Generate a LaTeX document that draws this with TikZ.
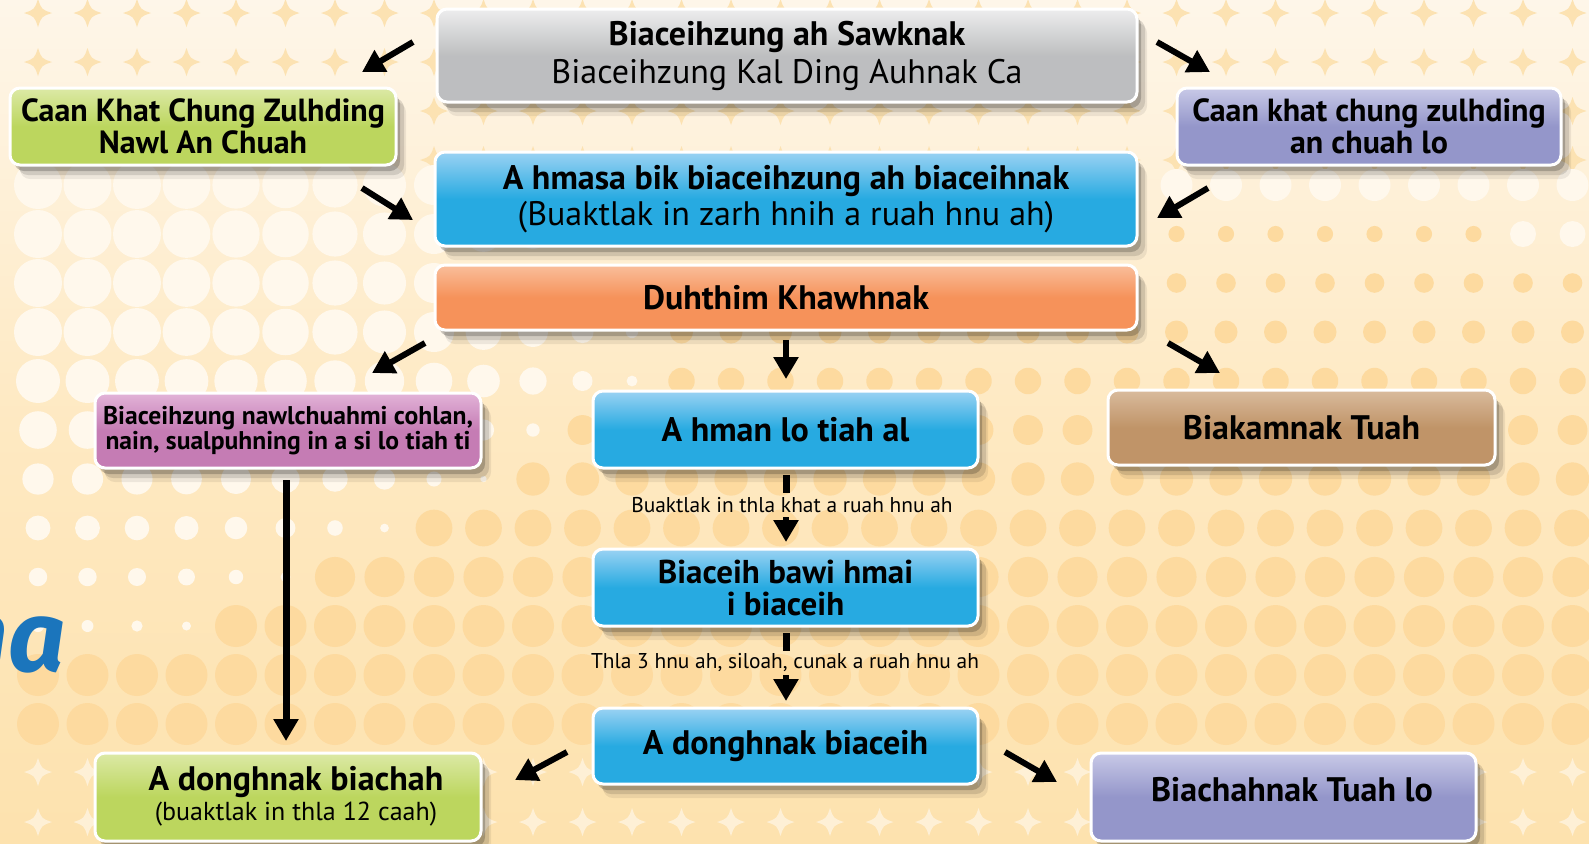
\documentclass[tikz,border=0pt]{standalone}
\usepackage{fontspec}
\setmainfont{PT Sans}
\newfontfamily\decofont{Fira Sans}
\usetikzlibrary{arrows.meta,shadows,calc}
\definecolor{bgTop}{HTML}{FEF6E9}
\definecolor{bgMid}{HTML}{FEE9C2}
\definecolor{bgBot}{HTML}{FDE2AE}
\definecolor{starA}{HTML}{FCE2B2}
\definecolor{starB}{HTML}{FEF0D6}
\definecolor{dotW}{HTML}{FFF8EC}
\definecolor{dotP}{HTML}{FDDA9F}
\definecolor{greyB}{HTML}{BDBEC0}\definecolor{greyT}{HTML}{EDEDEE}
\definecolor{blueB}{HTML}{27AAE1}\definecolor{blueT}{HTML}{9AD2F3}
\definecolor{orB}{HTML}{F6925A}\definecolor{orT}{HTML}{F9BE9B}
\definecolor{grB}{HTML}{BCD65E}\definecolor{grT}{HTML}{DCE9A6}
\definecolor{puB}{HTML}{9496CA}\definecolor{puT}{HTML}{C8C9E7}
\definecolor{pkB}{HTML}{C57CB4}\definecolor{pkT}{HTML}{E2B3D8}
\definecolor{brB}{HTML}{C09468}\definecolor{brT}{HTML}{D9BB9D}
\definecolor{decoblue}{HTML}{1B75BC}
\tikzset{
  box/.style={draw=white, line width=1.5pt, rounded corners=5pt, inner sep=0pt,
    align=center, text=black, font=\fontsize{17}{19}\selectfont\bfseries,
    general shadow={fill=black, opacity=0.07, shadow xshift=5pt, shadow yshift=-7pt},
    general shadow={fill=black, opacity=0.12, shadow xshift=4pt, shadow yshift=-5pt},
    general shadow={fill=black, opacity=0.2, shadow xshift=2pt, shadow yshift=-3pt}},
  greybox/.style={box, top color=greyT, bottom color=greyB, middle color=greyB},
  bluebox/.style={box, top color=blueT, bottom color=blueB, middle color=blueB},
  orbox/.style={box, top color=orT, bottom color=orB, middle color=orB},
  grbox/.style={box, top color=grT, bottom color=grB, middle color=grB},
  pubox/.style={box, top color=puT, bottom color=puB, middle color=puB},
  pkbox/.style={box, top color=pkT, bottom color=pkB, middle color=pkB},
  brbox/.style={box, top color=brT, bottom color=brB, middle color=brB},
  conn/.style={line width=3pt, -{Triangle[length=11pt,width=12pt]}},
  stub/.style={line width=3.5pt},
  lbl/.style={inner sep=1pt, font=\fontsize{10.7}{12}\selectfont, text=black},
}
\begin{document}
\begin{tikzpicture}[x=0.5pt,y=-0.5pt]
\useasboundingbox (0,0) rectangle (1589,843);
\begin{scope}
\clip (0,0) rectangle (1589,843);
% background
\shade[top color=bgTop, bottom color=bgBot, middle color=bgMid] (0,0) rectangle (1589,843);
\foreach \yy/\col in {13/starA,62/starA,111/starA,160/starA,772/starB,822/starB}{
  \foreach \i in {0,...,31}{
    \pgfmathsetmacro{\xx}{38+49.5*\i}
    \begin{scope}[shift={(\xx,\yy)}]
      \fill[\col] (0,-14) .. controls (3.5,-3.5) .. (14,0) .. controls (3.5,3.5) .. (0,14)
        .. controls (-3.5,3.5) .. (-14,0) .. controls (-3.5,-3.5) .. (0,-14);
    \end{scope}
  }
}
\foreach \j in {0,...,11}{
  \foreach \i in {0,...,31}{
    \pgfmathsetmacro{\xx}{38+49.5*\i}
    \pgfmathsetmacro{\yy}{185+49*\j}
    \pgfmathsetmacro{\Xo}{max(60,680-1.7*max(0,\yy-380))}
    \pgfmathsetmacro{\rt}{min(2,\xx/\Xo)}
    \pgfmathsetmacro{\fx}{max(0,1-\rt^4)}
    \pgfmathsetmacro{\wr}{min(24,24-0.065*max(0,\yy-350))*\fx}
    \pgfmathsetmacro{\wr}{(\xx>1140)&&(\yy<200) ? 16 : \wr}
    \pgfmathsetmacro{\wr}{(\xx>1480)&&(\yy>200)&&(\yy<260) ? 13 : \wr}
    \pgfmathsetmacro{\pr}{max(5,min(21,8+0.035*(\yy-232)))}
    \ifdim\wr pt>3pt
      \fill[dotW] (\xx,\yy) circle[radius={\wr*0.5pt}];
    \else
      \fill[dotP] (\xx,\yy) circle[radius={\pr*0.5pt}];
    \fi
  }
}
% decorative fragment of script text
\node[anchor=base east, inner sep=0pt, text=decoblue, font=\decofont\bfseries\itshape\fontsize{50}{50}\selectfont] (deco) at (66,671) {ha};
% boxes
\node[greybox, minimum width=350pt, minimum height=46.5pt] (top) at (787,55.5)
  {Biaceihzung ah Sawknak\\{\mdseries Biaceihzung Kal Ding Auhnak Ca}};
\node[grbox, minimum width=193pt, minimum height=38.5pt, font=\fontsize{16}{16}\selectfont\bfseries] (gl) at (203,126.5)
  {Caan Khat Chung Zulhding\\Nawl An Chuah};
\node[pubox, minimum width=192pt, minimum height=38.5pt, font=\fontsize{16}{16}\selectfont\bfseries] (pr) at (1369,126.5)
  {Caan khat chung zulhding\\an chuah lo};
\node[bluebox, minimum width=351pt, minimum height=47pt, font=\fontsize{17}{18}\selectfont\bfseries] (b1) at (786,199)
  {A hmasa bik biaceihzung ah biaceihnak\\{\mdseries (Buaktlak in zarh hnih a ruah hnu ah)}};
\node[orbox, minimum width=351pt, minimum height=32.5pt] (or) at (786,297.5) {Duhthim Khawhnak};
\node[pkbox, minimum width=193pt, minimum height=37.5pt, font=\fontsize{12.8}{12.5}\selectfont\bfseries] (pk) at (288,430.5)
  {Biaceihzung nawlchuahmi cohlan,\\nain, sualpuhning in a si lo tiah ti};
\node[bluebox, minimum width=192.5pt, minimum height=38.5pt] (b2) at (785.5,429.5) {A hman lo tiah al};
\node[brbox, minimum width=193.5pt, minimum height=37.5pt] (br) at (1301.5,427.5) {Biakamnak Tuah};
\node[bluebox, minimum width=192.5pt, minimum height=38.5pt, font=\fontsize{16.5}{16}\selectfont\bfseries] (b3) at (785.5,587.5)
  {Biaceih bawi hmai\\i biaceih};
\node[bluebox, minimum width=192.5pt, minimum height=38pt] (b4) at (785.5,746) {A donghnak biaceih};
\node[grbox, minimum width=193pt, minimum height=44pt] (gb) at (288,797) {};
\node[align=center, inner sep=0pt, font=\fontsize{17}{15}\selectfont\bfseries] (gbt) at (296,796)
  {A donghnak biachah\\{\mdseries\fontsize{13}{15}\selectfont (buaktlak in thla 12 caah)}};
\node[pubox, minimum width=192.5pt, minimum height=44pt] (pb) at (1283.5,797) {};
\node[inner sep=0pt, font=\fontsize{17}{19}\selectfont\bfseries] (pbt) at (1292,790) {Biachahnak Tuah lo};
% labels on the vertical flow
\node[lbl] (l1) at (792,505) {Buaktlak in thla khat a ruah hnu ah};
\node[lbl] (l2) at (785,662) {Thla 3 hnu ah, siloah, cunak a ruah hnu ah};
% connector end points
\coordinate (a1s) at (413,42);   \coordinate (a1e) at (362,72);
\coordinate (a2s) at (1157,42);  \coordinate (a2e) at (1210,72);
\coordinate (a3s) at (362,188);  \coordinate (a3e) at (413,220);
\coordinate (a4s) at (1208,188); \coordinate (a4e) at (1157,218);
\coordinate (a5s) at (425,343);  \coordinate (a5e) at (372,373);
\coordinate (a6s) at (786,340);  \coordinate (a6e) at (786,379);
\coordinate (a7s) at (1168,343); \coordinate (a7e) at (1220,373);
\coordinate (a8s) at (286,480);  \coordinate (a8e) at (286,741);
\coordinate (a11s) at (567,752); \coordinate (a11e) at (515,780);
\coordinate (a12s) at (1005,752);\coordinate (a12e) at (1057,782);
\coordinate (d1s) at (786,475);  \coordinate (d1e) at (786,493);
\coordinate (h1s) at (786,517);  \coordinate (h1e) at (786,542);
\coordinate (d2s) at (786,633);  \coordinate (d2e) at (786,651);
\coordinate (h2s) at (786,675);  \coordinate (h2e) at (786,701);
% connectors
\draw[conn] (a1s) -- (a1e);
\draw[conn] (a2s) -- (a2e);
\draw[conn] (a3s) -- (a3e);
\draw[conn] (a4s) -- (a4e);
\draw[conn] (a5s) -- (a5e);
\draw[conn] (a6s) -- (a6e);
\draw[conn] (a7s) -- (a7e);
\draw[conn, line width=3.5pt] (a8s) -- (a8e);
\draw[conn] (a11s) -- (a11e);
\draw[conn] (a12s) -- (a12e);
\draw[stub] (d1s) -- (d1e);
\draw[conn] (h1s) -- (h1e);
\draw[stub] (d2s) -- (d2e);
\draw[conn] (h2s) -- (h2e);
\end{scope}
\end{tikzpicture}
\end{document}
